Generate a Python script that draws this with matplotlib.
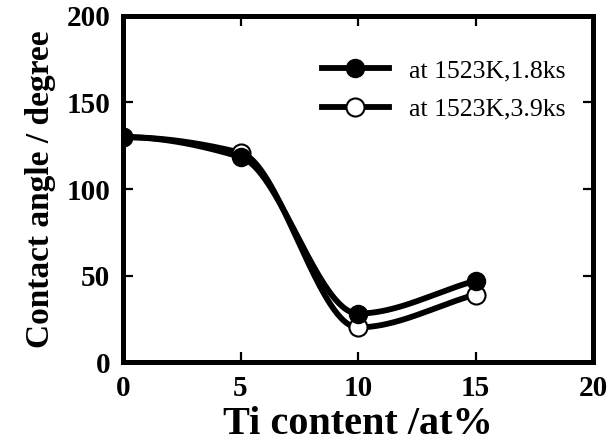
import numpy as np
import matplotlib
matplotlib.use("Agg")
import matplotlib.pyplot as plt

# contact angle vs Ti content
ti = [0, 5, 10, 15]
angle_18ks = [130, 118.5, 28, 47]
angle_39ks = [130, 121, 20, 39]
labels = ["at 1523K,1.8ks", "at 1523K,3.9ks"]


def smooth(x, y, n=200):
    # monotone cubic (pchip style) just for drawing the curve
    x = np.asarray(x, float)
    y = np.asarray(y, float)
    h = np.diff(x)
    d = np.diff(y) / h
    m = np.zeros_like(y)
    for k in range(1, len(x) - 1):
        if d[k - 1] * d[k] > 0:
            w1 = 2 * h[k] + h[k - 1]
            w2 = h[k] + 2 * h[k - 1]
            m[k] = (w1 + w2) / (w1 / d[k - 1] + w2 / d[k])
    m[0] = 0.0
    m[-1] = d[-1]
    xs = np.linspace(x[0], x[-1], n)
    ys = np.empty_like(xs)
    for i, xv in enumerate(xs):
        k = min(np.searchsorted(x, xv, side="right") - 1, len(x) - 2)
        t = (xv - x[k]) / h[k]
        h00 = 2 * t**3 - 3 * t**2 + 1
        h10 = t**3 - 2 * t**2 + t
        h01 = -2 * t**3 + 3 * t**2
        h11 = t**3 - t**2
        ys[i] = h00 * y[k] + h10 * h[k] * m[k] + h01 * y[k + 1] + h11 * h[k] * m[k + 1]
    return xs, ys


plt.rcParams["font.family"] = ["Liberation Serif", "DejaVu Serif"]

fig = plt.figure(figsize=(6.15, 4.48), dpi=100)
ax = fig.add_axes([123 / 615, 1 - 362 / 448, 470 / 615, 346 / 448])

lw = 4.2
xs, ys = smooth(ti, angle_39ks)
ax.plot(xs, ys, color="black", lw=lw, solid_capstyle="round", zorder=2)
ax.plot(ti, angle_39ks, "o", ms=13, mfc="white", mec="black", mew=1.5, zorder=3)
xs, ys = smooth(ti, angle_18ks)
ax.plot(xs, ys, color="black", lw=lw, solid_capstyle="round", zorder=2)
ax.plot(ti, angle_18ks, "o", ms=13, mfc="black", mec="black", zorder=4)

# legend handles
h1, = ax.plot([], [], "-o", color="black", lw=lw, ms=13, mfc="black")
h2, = ax.plot([], [], "-o", color="black", lw=lw, ms=13, mfc="white", mew=1.5)
leg = ax.legend([h1, h2], labels, loc="upper left", bbox_to_anchor=(0.423, 0.875),
                frameon=False, fontsize=18.5, handlelength=2.6, handletextpad=0.8,
                labelspacing=0.6, borderpad=0, borderaxespad=0, numpoints=1)

ax.set_xlim(0, 20)
ax.set_ylim(0, 200)
ax.set_xticks([0, 5, 10, 15, 20])
ax.set_yticks([0, 50, 100, 150, 200])
for s in ax.spines.values():
    s.set_linewidth(3.6)
ax.tick_params(direction="in", length=7, width=1.6, top=True, right=True,
               labelsize=21, pad=9)
for t in ax.get_xticklabels() + ax.get_yticklabels():
    t.set_fontweight("bold")

ax.set_xlabel("Ti content /at%", fontsize=29, fontweight="bold", labelpad=3)
ax.set_ylabel("Contact angle / degree", fontsize=24, fontweight="bold", labelpad=8)

fig.savefig("out.png", dpi=100)
